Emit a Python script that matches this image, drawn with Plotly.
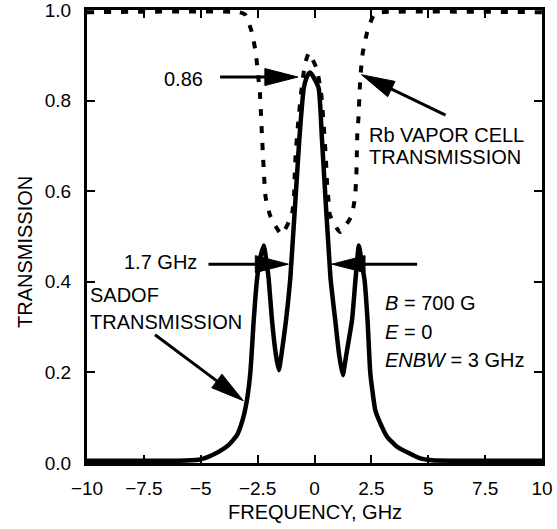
import math
import plotly.graph_objects as go

# ---------------- data ----------------
sadof_x = [-10, -6, -5.1, -4.7, -4.2, -3.77, -3.4, -3.16, -2.97, -2.82, -2.67, -2.53, -2.4,
           -2.23, -2.1, -2.01, -1.87, -1.7, -1.57, -1.45, -1.25, -1.06, -0.67, -0.47, -0.3,
           -0.2, -0.08, 0.18, 0.33, 0.7, 0.91, 1.08, 1.24, 1.4, 1.65, 1.8, 1.95, 2.08, 2.2,
           2.33, 2.45, 2.56, 2.67, 2.89, 3.19, 3.63, 4.14, 4.65, 5.16, 6, 10]
sadof_y = [0.005, 0.005, 0.007, 0.013, 0.025, 0.04, 0.062, 0.095, 0.139, 0.2, 0.316, 0.404, 0.45,
           0.48, 0.44, 0.404, 0.316, 0.24, 0.205, 0.24, 0.316, 0.41, 0.713, 0.828, 0.856,
           0.862, 0.855, 0.828, 0.713, 0.41, 0.316, 0.24, 0.194, 0.24, 0.316, 0.404, 0.48, 0.44, 0.404,
           0.316, 0.2, 0.154, 0.117, 0.088, 0.058, 0.036, 0.022, 0.01, 0.006, 0.005, 0.005]

rb_x = [-10, -3.3, -3.05, -2.76, -2.58, -2.48, -2.4, -2.35, -2.31, -2.26, -2.22, -2.15, -1.94,
        -1.45, -1.0, -0.9, -0.87, -0.84, -0.72, -0.58, -0.42, -0.25, -0.08, 0.1, 0.29, 0.4,
        0.5, 0.55, 0.62, 0.68, 1.12, 1.62, 1.78, 1.84, 1.86, 1.88, 1.94, 1.98, 2.03, 2.12,
        2.32, 2.62, 2.95, 10]
rb_y = [0.995, 0.995, 0.99, 0.952, 0.905, 0.856, 0.817, 0.768, 0.724, 0.675, 0.636, 0.587, 0.545,
        0.505, 0.547, 0.59, 0.636, 0.673, 0.75, 0.82, 0.88, 0.905, 0.89, 0.87, 0.817, 0.75,
        0.673, 0.62, 0.577, 0.547, 0.51, 0.545, 0.587, 0.636, 0.68, 0.724, 0.768, 0.817, 0.86, 0.905,
        0.952, 0.99, 0.995, 0.995]

x_tickvals = [-10, -7.5, -5, -2.5, 0, 2.5, 5, 7.5, 10]
x_ticktext = ["\u221210", "\u22127.5", "\u22125", "\u22122.5", "0", "2.5", "5", "7.5", "10"]
y_tickvals = [0.0, 0.2, 0.4, 0.6, 0.8, 1.0]
y_ticktext = ["0.0", "0.2", "0.4", "0.6", "0.8", "1.0"]

# ---------------- layout geometry ----------------
W, H = 557, 529
ML, MR, MT, MB = 87, 15, 10, 66
XR = [-10, 10]
YR = [0, 1]
pw = W - ML - MR
ph = H - MT - MB
sx = pw / (XR[1] - XR[0])
sy = ph / (YR[1] - YR[0])

FONT = "Liberation Sans, Arial, sans-serif"
FS = 19
FA = 20

fig = go.Figure()
fig.add_trace(go.Scatter(x=rb_x, y=rb_y, mode="lines",
                         line=dict(color="black", width=4, dash="7px,10px", shape="spline", smoothing=0.5),
                         hoverinfo="skip", showlegend=False))
fig.add_trace(go.Scatter(x=sadof_x, y=sadof_y, mode="lines",
                         line=dict(color="black", width=4.5, shape="spline", smoothing=0.5),
                         hoverinfo="skip", showlegend=False))

shapes = []


def arrow(tail, tip, L=33, hw=8.5, lw=3):
    dx = (tip[0] - tail[0]) * sx
    dy = (tip[1] - tail[1]) * sy
    n = math.hypot(dx, dy)
    ux, uy = dx / n, dy / n
    px, py = -uy, ux
    bx = tip[0] - ux * L / sx
    by = tip[1] - uy * L / sy
    p1 = (bx + px * hw / sx, by + py * hw / sy)
    p2 = (bx - px * hw / sx, by - py * hw / sy)
    shapes.append(dict(type="line", xref="x", yref="y", x0=tail[0], y0=tail[1],
                       x1=bx + ux * 2 / sx, y1=by + uy * 2 / sy,
                       line=dict(color="black", width=lw)))
    shapes.append(dict(type="path", xref="x", yref="y",
                       path=f"M{tip[0]},{tip[1]} L{p1[0]},{p1[1]} L{p2[0]},{p2[1]} Z",
                       fillcolor="black", line=dict(color="black", width=1)))


arrow((-4.15, 0.852), (-0.73, 0.852))
arrow((5.76, 0.768), (2.07, 0.857))
arrow((-4.66, 0.439), (-1.15, 0.439))
arrow((4.51, 0.439), (0.77, 0.439))
arrow((-7.01, 0.283), (-3.13, 0.1375))

ann = []


def text(x, y, s, xanchor="left", **kw):
    ann.append(dict(x=x, y=y, xref="x", yref="y", text=s, showarrow=False,
                    xanchor=xanchor, yanchor="middle",
                    font=dict(family=FONT, size=FA, color="black"), **kw))


text(-5.78, 0.848, "0.86", xanchor="center")
text(2.31, 0.724, "Rb VAPOR CELL")
text(2.31, 0.676, "TRANSMISSION")
text(-6.75, 0.444, "1.7 GHz", xanchor="center")
text(-9.96, 0.371, "SADOF")
text(-9.96, 0.312, "TRANSMISSION")
text(3.01, 0.3525, "<i>B</i> = 700 G")
text(3.01, 0.29, "<i>E</i> = 0")
text(3.01, 0.227, "<i>ENBW</i> = 3 GHz")

ann.append(dict(x=-0.136, y=0.466, xref="paper", yref="paper", text="TRANSMISSION",
                textangle=-90, showarrow=False, xanchor="center", yanchor="middle",
                font=dict(family=FONT, size=FA, color="black")))
ann.append(dict(x=0.5, y=-0.1075, xref="paper", yref="paper", text="FREQUENCY, GHz",
                showarrow=False, xanchor="center", yanchor="middle",
                font=dict(family=FONT, size=FA, color="black")))

axis_common = dict(showline=True, linewidth=3, linecolor="black", mirror="ticks",
                   ticks="inside", ticklen=8, tickwidth=2, tickcolor="black",
                   showgrid=False, zeroline=False, automargin=False,
                   ticklabeloverflow="allow",
                   tickfont=dict(family=FONT, size=FS, color="black"))

fig.update_layout(
    width=W, height=H,
    margin=dict(l=ML, r=MR, t=MT, b=MB, pad=0, autoexpand=False),
    paper_bgcolor="white", plot_bgcolor="white",
    xaxis=dict(range=XR, tickmode="array", tickvals=x_tickvals, ticktext=x_ticktext,
               ticklabelstandoff=6, **axis_common),
    yaxis=dict(range=YR, tickmode="array", tickvals=y_tickvals, ticktext=y_ticktext,
               ticklabelstandoff=9, **axis_common),
    shapes=shapes,
    annotations=ann,
    showlegend=False,
)

fig.write_html("out.html",
               config={"displayModeBar": False},
               post_script="document.body.style.margin='0';document.body.style.padding='0';"
                           "document.body.style.overflow='hidden';"
                           "document.documentElement.style.overflow='hidden';")
